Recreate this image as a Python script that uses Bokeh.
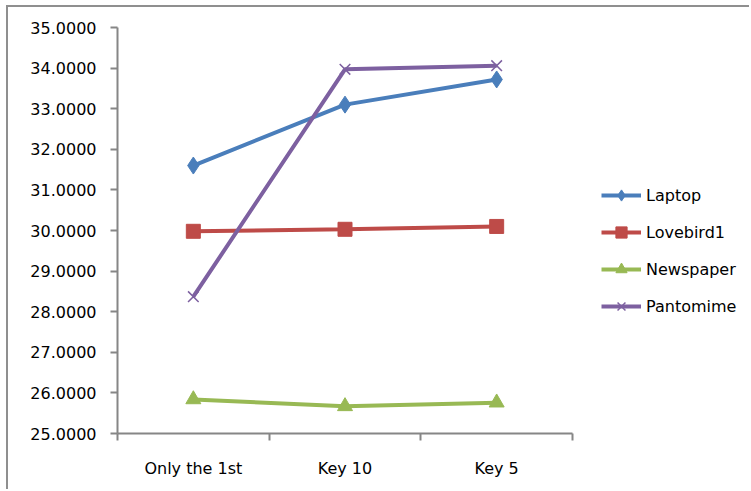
from bokeh.plotting import figure
from bokeh.models import FixedTicker, Legend, LegendItem, Range1d
from bokeh.embed import file_html
from bokeh.resources import INLINE

categories = ["Only the 1st", "Key 10", "Key 5"]
laptop = [31.60, 33.10, 33.72]
lovebird1 = [29.98, 30.03, 30.10]
newspaper = [25.84, 25.67, 25.76]
pantomime = [28.37, 33.97, 34.06]
y_ticks = [25, 26, 27, 28, 29, 30, 31, 32, 33, 34, 35]

series = [
    ("Laptop", laptop, "#4A7EBB", "diamond", 17),
    ("Lovebird1", lovebird1, "#BE4B48", "square", 14),
    ("Newspaper", newspaper, "#98B954", "triangle", 15),
    ("Pantomime", pantomime, "#7D60A0", "x", 15),
]

n = len(categories)
xs = [i + 0.5 for i in range(n)]
FONT = "DejaVu Sans"

# plot area spans 455 px for the categories; the frame is widened to host the legend
FRAME_W = 630
CAT_W = 455
x_end = n * FRAME_W / CAT_W

p = figure(width=743, height=484, output_backend="svg", toolbar_location=None,
           x_range=Range1d(0, x_end), y_range=Range1d(25, 35),
           min_border_left=109, min_border_top=20, min_border_bottom=58,
           min_border_right=743 - 109 - FRAME_W)
p.styles = {"border-left": "2px solid #8f8f8f", "border-top": "2px solid #8f8f8f",
            "margin-left": "6px", "margin-top": "5px"}
p.outline_line_color = None
p.xgrid.visible = False
p.ygrid.visible = False
p.background_fill_color = "white"
p.border_fill_color = "white"

items = []
for name, vals, color, marker, size in series:
    r1 = p.line(xs, vals, line_color=color, line_width=4)
    if marker == "x":
        r2 = p.scatter(xs, vals, marker="x", size=size, line_color=color, line_width=1.5)
    else:
        r2 = p.scatter(xs, vals, marker=marker, size=size, fill_color=color, line_color=color)
    items.append(LegendItem(label=name, renderers=[r1, r2]))

# axes
ya = p.yaxis[0]
ya.ticker = FixedTicker(ticks=y_ticks, minor_ticks=[])
ya.major_label_overrides = {t: f"{t:.4f}" for t in y_ticks}
ya.axis_line_color = "#868686"
ya.axis_line_width = 2
ya.major_tick_line_color = "#868686"
ya.major_tick_line_width = 2
ya.major_tick_out = 7
ya.major_tick_in = 0
ya.minor_tick_line_color = None
ya.major_label_standoff = 14
ya.major_label_text_font = FONT
ya.major_label_text_font_size = "16px"
ya.major_label_text_color = "black"

xa = p.xaxis[0]
xa.bounds = (0, n)
xa.ticker = FixedTicker(ticks=xs, minor_ticks=list(range(n + 1)))
xa.major_label_overrides = {x: c for x, c in zip(xs, categories)}
xa.axis_line_color = "#868686"
xa.axis_line_width = 2
xa.major_tick_line_color = None
xa.major_tick_out = 0
xa.major_tick_in = 0
xa.minor_tick_line_color = "#868686"
xa.minor_tick_line_width = 2
xa.minor_tick_out = 7
xa.minor_tick_in = 0
xa.major_label_standoff = 18
xa.major_label_text_font = FONT
xa.major_label_text_font_size = "16px"
xa.major_label_text_color = "black"

legend = Legend(items=items, location=(484, 113), orientation="vertical",
                label_text_font=FONT, label_text_font_size="16px", label_text_color="black",
                glyph_width=40, glyph_height=28, label_height=28, spacing=9,
                label_standoff=5, padding=4, margin=0, border_line_color=None,
                background_fill_alpha=0)
p.add_layout(legend, "center")

open("out.html", "w").write(file_html(p, INLINE))
